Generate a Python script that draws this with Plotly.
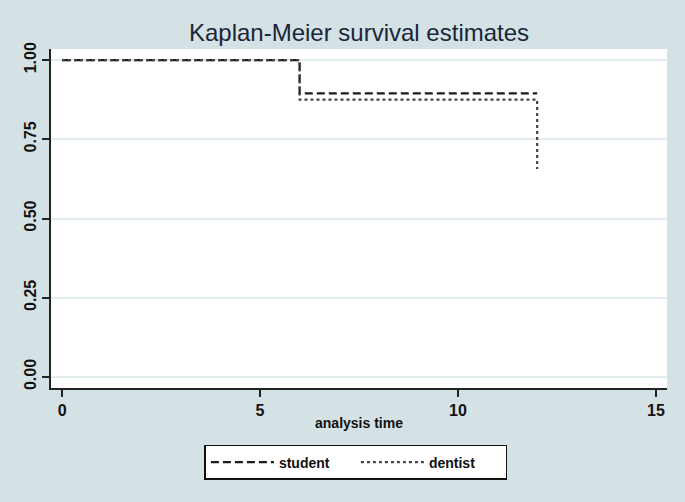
import plotly.graph_objects as go

# Kaplan-Meier step data
student_time = [0, 6, 6, 12]
student_surv = [1.0, 1.0, 0.895, 0.895]
dentist_time = [0, 6, 6, 12, 12]
dentist_surv = [1.0, 1.0, 0.875, 0.875, 0.656]

x_ticks = [0, 5, 10, 15]
y_ticks = [0.0, 0.25, 0.5, 0.75, 1.0]

BG = "#d4e1e5"
FONT = "Liberation Sans, Arial, sans-serif"

fig = go.Figure()

fig.add_trace(
    go.Scatter(
        x=student_time,
        y=student_surv,
        mode="lines",
        name="student",
        line=dict(color="#1a1a1a", width=2.2, dash="8px,4px"),
    )
)
fig.add_trace(
    go.Scatter(
        x=dentist_time,
        y=dentist_surv,
        mode="lines",
        name="dentist",
        line=dict(color="#444444", width=2.2, dash="dot"),
    )
)

fig.update_layout(
    width=685,
    height=502,
    paper_bgcolor=BG,
    plot_bgcolor="white",
    margin=dict(l=51, r=18, t=49, b=114),
    font=dict(family=FONT, color="#111111"),
    title=dict(
        text="Kaplan-Meier survival estimates",
        x=0.5,
        xref="paper",
        xanchor="center",
        y=0.935,
        yanchor="middle",
        font=dict(size=24, color="#1a2638"),
    ),
    showlegend=True,
    legend=dict(
        orientation="h",
        x=0.495,
        xanchor="center",
        y=-0.168,
        yanchor="top",
        bgcolor="white",
        bordercolor="#111111",
        borderwidth=1.5,
        font=dict(size=14, color="#111111", weight="bold"),
        itemwidth=63,
        entrywidth=72,
    ),
)

fig.update_xaxes(
    range=[-0.28, 15.28],
    tickvals=x_ticks,
    ticks="outside",
    ticklen=7,
    tickwidth=1.5,
    tickcolor="#222222",
    showline=True,
    linecolor="#222222",
    linewidth=1.5,
    showgrid=False,
    zeroline=False,
    automargin=False,
    tickfont=dict(size=16, weight="bold"),
    title=dict(text="analysis time", font=dict(size=14, weight="bold"), standoff=0),
)
fig.update_yaxes(
    range=[-0.035, 1.035],
    tickvals=y_ticks,
    tickformat=".2f",
    tickangle=-90,
    ticks="outside",
    ticklen=7,
    tickwidth=1.5,
    tickcolor="#222222",
    showline=True,
    linecolor="#222222",
    linewidth=1.5,
    showgrid=True,
    gridcolor="#e3ecee",
    gridwidth=1.8,
    zeroline=False,
    automargin=False,
    tickfont=dict(size=16, weight="bold"),
)

# drop the browser's default body margin so the figure fills the window
fig.write_html(
    "out.html",
    config={"displayModeBar": False},
    post_script="document.body.style.margin='0';",
)
